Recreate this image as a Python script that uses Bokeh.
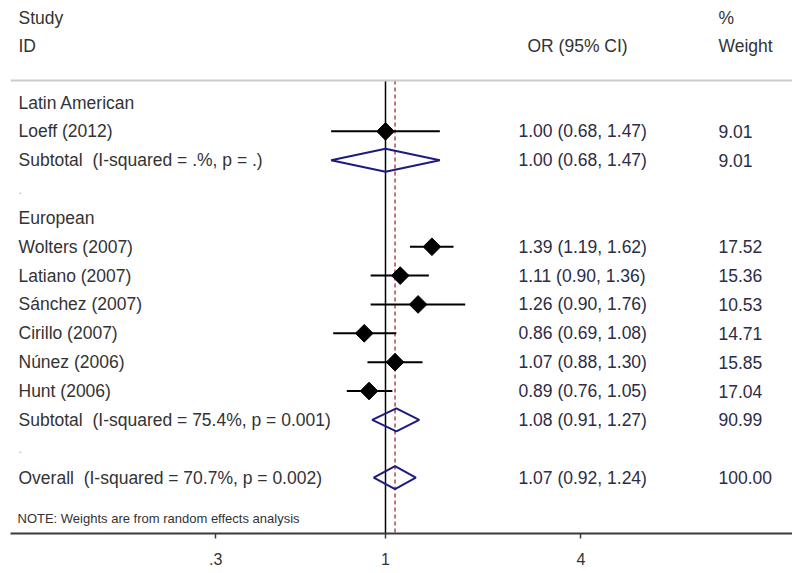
import math
from bokeh.plotting import figure
from bokeh.models import (Range1d, FixedTicker, CustomJSTickFormatter, ColumnDataSource,
                          LabelSet, Label, Span)
from bokeh.core.properties import value
from bokeh.embed import file_html
from bokeh.resources import INLINE

# ---------------- data ----------------
group_names = ["Latin American", "European"]
group_rows = [0, 4]

study_names = ["Loeff (2012)", "Wolters (2007)", "Latiano (2007)", "Sánchez (2007)",
               "Cirillo (2007)", "Núnez (2006)", "Hunt (2006)"]
study_or = [1.00, 1.39, 1.11, 1.26, 0.86, 1.07, 0.89]
study_lo = [0.68, 1.19, 0.90, 0.90, 0.69, 0.88, 0.76]
study_hi = [1.47, 1.62, 1.36, 1.76, 1.08, 1.30, 1.05]
study_wt = [9.01, 17.52, 15.36, 10.53, 14.71, 15.85, 17.04]
study_rows = [1, 5, 6, 7, 8, 9, 10]

summary_names = ["Subtotal \u00a0(I-squared = .%, p = .)",
                 "Subtotal \u00a0(I-squared = 75.4%, p = 0.001)",
                 "Overall \u00a0(I-squared = 70.7%, p = 0.002)"]
summary_or = [1.00, 1.08, 1.07]
summary_lo = [0.68, 0.91, 0.92]
summary_hi = [1.47, 1.27, 1.24]
summary_wt = [9.01, 90.99, 100.00]
summary_rows = [2, 11, 13]

spacer_rows = [3, 12]

header_left = ["Study", "ID"]
header_ci = "OR (95% CI)"
header_wt = ["%", "Weight"]
note_text = "NOTE: Weights are from random effects analysis"

tick_vals = [0.3, 1, 4]
tick_labels = [".3", "1", "4"]
null_value = 1

# ---------------- layout constants ----------------
W, H = 792, 572
FRAME_L, FRAME_R = 10, 792
ONE_PX = 385
K = 141.0
ROW0_Y = 102.0
ROW_H = 28.85
FRAME_T, FRAME_B = 0, 533

x_start = math.exp((FRAME_L - ONE_PX) / K)
x_end = math.exp((FRAME_R - ONE_PX) / K)
y_top = (FRAME_T - ROW0_Y) / ROW_H
y_bot = (FRAME_B - ROW0_Y) / ROW_H
line_row = (80 - ROW0_Y) / ROW_H
hdr1_row = (17 - ROW0_Y) / ROW_H
hdr2_row = (45 - ROW0_Y) / ROW_H
note_row = (518 - ROW0_Y) / ROW_H

FONT = "Liberation Sans"
FS = "17.5px"
TXT = "#333333"
VAL = "#2c2c46"
NAVY = "#1c1c7c"

p = figure(width=W, height=H, x_axis_type="log",
           x_range=Range1d(x_start, x_end), y_range=Range1d(y_bot, y_top),
           y_axis_location=None, output_backend="svg", toolbar_location=None,
           min_border_left=FRAME_L, min_border_right=0, min_border_top=0,
           min_border_bottom=H - FRAME_B)
p.outline_line_color = None
p.xgrid.visible = False
p.ygrid.visible = False
p.background_fill_color = "white"
p.border_fill_color = "white"

# x axis
p.xaxis.ticker = FixedTicker(ticks=tick_vals, minor_ticks=[])
p.xaxis.formatter = CustomJSTickFormatter(
    args=dict(vals=tick_vals, labs=tick_labels),
    code="const i = vals.findIndex(v => Math.abs(v - tick) < 1e-9); return i >= 0 ? labs[i] : '';")
p.xaxis.axis_line_color = "#3a3a3a"
p.xaxis.axis_line_width = 2
p.xaxis.major_tick_line_color = "#3a3a3a"
p.xaxis.major_tick_line_width = 1.5
p.xaxis.major_tick_in = 0
p.xaxis.major_tick_out = 5
p.xaxis.minor_tick_line_color = None
p.xaxis.major_label_text_font = FONT
p.xaxis.major_label_text_font_size = "16px"
p.xaxis.major_label_text_color = TXT
p.xaxis.major_label_standoff = 14

# top gray rule
p.add_layout(Span(location=line_row, dimension="width", line_color="#cccccc", line_width=2))

# reference lines
p.segment(x0=[null_value], x1=[null_value], y0=[line_row], y1=[y_bot],
          line_color="black", line_width=1.5)
p.segment(x0=[summary_or[-1]], x1=[summary_or[-1]], y0=[line_row], y1=[y_bot],
          line_color="#b04848", line_width=1.5, line_dash="4 3")

# study CIs and markers
src = ColumnDataSource(dict(est=study_or, lo=study_lo, hi=study_hi, row=study_rows))
p.segment(x0="lo", x1="hi", y0="row", y1="row", source=src, line_color="black", line_width=2)
p.scatter(x="est", y="row", source=src, marker="square", angle=math.pi / 4, size=12.5,
          fill_color="black", line_color="black")

# summary diamonds
h = 0.40
xs = [[lo, est, hi, est] for lo, est, hi in zip(summary_lo, summary_or, summary_hi)]
ys = [[r, r - h, r, r + h] for r in summary_rows]
p.patches(xs=xs, ys=ys, fill_color=None, line_color=NAVY, line_width=2)

# left column labels
left_text = group_names + study_names + summary_names
left_rows = group_rows + study_rows + summary_rows
left_src = ColumnDataSource(dict(text=left_text, row=left_rows))
p.add_layout(LabelSet(x=8, y="row", text="text", source=left_src, x_units="screen",
                      text_font=value(FONT), text_font_size=value(FS),
                      text_color=TXT, text_baseline="middle"))
dot_src = ColumnDataSource(dict(text=["."] * len(spacer_rows), row=spacer_rows))
p.add_layout(LabelSet(x=8, y="row", text="text", source=dot_src, x_units="screen",
                      text_font=value(FONT), text_font_size=value("13px"),
                      text_color="#aaaaaa", text_baseline="middle"))

# CI and weight columns
ci_text = [f"{e:.2f} ({l:.2f}, {u:.2f})" for e, l, u in zip(study_or, study_lo, study_hi)] + \
          [f"{e:.2f} ({l:.2f}, {u:.2f})" for e, l, u in zip(summary_or, summary_lo, summary_hi)]
wt_text = [f"{w:.2f}" for w in study_wt] + [f"{w:.2f}" for w in summary_wt]
val_rows = study_rows + summary_rows
val_src = ColumnDataSource(dict(ci=ci_text, wt=wt_text, row=val_rows))
p.add_layout(LabelSet(x=508, y="row", text="ci", source=val_src, x_units="screen",
                      text_font=value(FONT), text_font_size=value(FS),
                      text_color=VAL, text_baseline="middle"))
p.add_layout(LabelSet(x=708, y="row", text="wt", source=val_src, x_units="screen",
                      text_font=value(FONT), text_font_size=value(FS),
                      text_color=VAL, text_baseline="middle"))

# headers
for txt, r in zip(header_left, [hdr1_row, hdr2_row]):
    p.add_layout(Label(x=8, y=r, x_units="screen", text=txt, text_font=FONT,
                       text_font_size=FS, text_color=TXT, text_baseline="middle"))
for txt, r in zip(header_wt, [hdr1_row, hdr2_row]):
    p.add_layout(Label(x=708, y=r, x_units="screen", text=txt, text_font=FONT,
                       text_font_size=FS, text_color=TXT, text_baseline="middle"))
p.add_layout(Label(x=517, y=hdr2_row, x_units="screen", text=header_ci, text_font=FONT,
                   text_font_size=FS, text_color=TXT, text_baseline="middle"))
p.add_layout(Label(x=7, y=note_row, x_units="screen", text=note_text, text_font=FONT,
                   text_font_size="13px", text_color=TXT, text_baseline="middle"))

open("out.html", "w").write(file_html(p, INLINE))
